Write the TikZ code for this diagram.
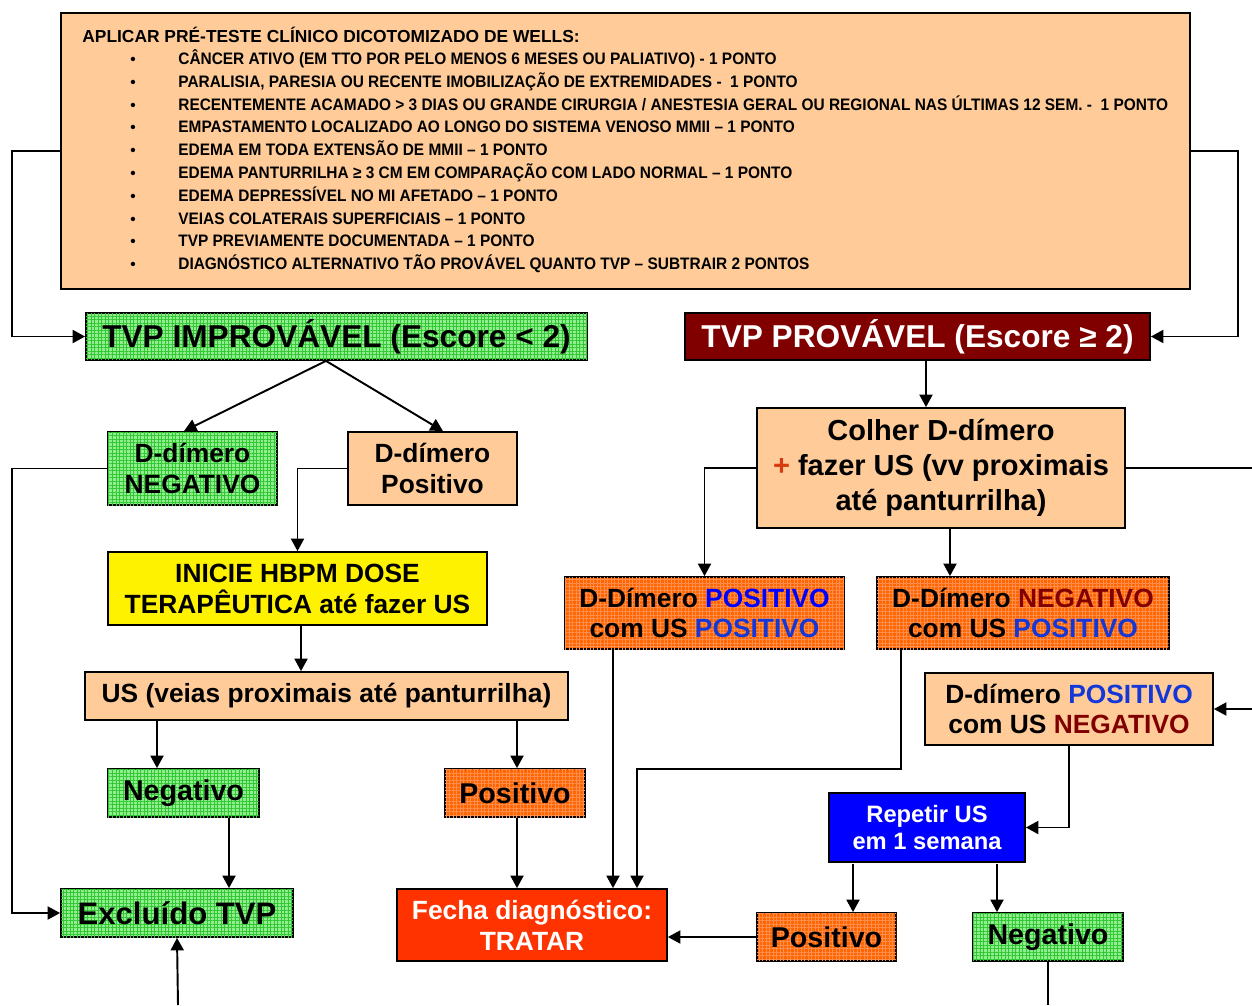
\documentclass[tikz,border=0pt]{standalone}
\usepackage{fontspec}
\setmainfont{Liberation Sans}
\newfontfamily\narrowf[FakeStretch=0.93]{Liberation Sans}
\usetikzlibrary{arrows.meta,patterns.meta}
\definecolor{peach}{HTML}{FFCC99}
\definecolor{gbase}{HTML}{90EE90}
\definecolor{gline}{HTML}{33C833}
\definecolor{obase}{HTML}{FF6600}
\definecolor{oline}{HTML}{FF8E4E}
\definecolor{dred}{HTML}{800000}
\definecolor{fred}{HTML}{FF3300}
\definecolor{tblue}{HTML}{0000FF}
\definecolor{mblue}{HTML}{1438D8}
\definecolor{plus}{HTML}{D83A10}
\newcommand\fsz[2]{\fontsize{#1}{#2}\selectfont}
\begin{document}
\begin{tikzpicture}[x=0.02cm,y=-0.02cm,
  sz/.style 2 args={minimum width=#1*0.02cm,minimum height=#2*0.02cm},
  box/.style={draw=black,line width=1pt,inner sep=0pt,align=center,font=\bfseries},
  peachbox/.style={box,fill=peach},
  greenbox/.style={box,fill=gbase,postaction={pattern={Hatch[angle=0,distance=2pt,line width=0.5pt]},pattern color=gline}},
  orangebox/.style={box,fill=obase,postaction={pattern={Hatch[angle=0,distance=2pt,line width=0.5pt]},pattern color=oline}},
  arr/.style={line width=1.1pt,-{Triangle[length=0.25cm,width=0.26cm]}},
  ln/.style={line width=1.1pt},
  item/.style={inner sep=0pt,anchor=base west,font=\narrowf\bfseries\fsz{9.45}{10}},
  dot/.style={inner sep=0pt,anchor=base,font=\bfseries\fsz{8.7}{10}}
]
\useasboundingbox (0,0) rectangle (1252,1005);
% top box
\node[peachbox,sz={1129}{276}] (top) at (625.5,151) {};
\node[inner sep=0pt,anchor=base west,font=\bfseries\fsz{9.9}{11}] (head) at (82,42) {APLICAR PRÉ-TESTE CLÍNICO DICOTOMIZADO DE WELLS:};
\foreach \t [count=\i] in {
  {CÂNCER ATIVO (EM TTO POR PELO MENOS 6 MESES OU PALIATIVO) - 1 PONTO},
  {PARALISIA, PARESIA OU RECENTE IMOBILIZAÇÃO DE EXTREMIDADES -\ \ 1 PONTO},
  {RECENTEMENTE ACAMADO > 3 DIAS OU GRANDE CIRURGIA / ANESTESIA GERAL OU REGIONAL NAS ÚLTIMAS 12 SEM. -\ \ 1 PONTO},
  {EMPASTAMENTO LOCALIZADO AO LONGO DO SISTEMA VENOSO MMII – 1 PONTO},
  {EDEMA EM TODA EXTENSÃO DE MMII – 1 PONTO},
  {EDEMA PANTURRILHA ≥ 3 CM EM COMPARAÇÃO COM LADO NORMAL – 1 PONTO},
  {EDEMA DEPRESSÍVEL NO MI AFETADO – 1 PONTO},
  {VEIAS COLATERAIS SUPERFICIAIS – 1 PONTO},
  {TVP PREVIAMENTE DOCUMENTADA – 1 PONTO},
  {DIAGNÓSTICO ALTERNATIVO TÃO PROVÁVEL QUANTO TVP – SUBTRAIR 2 PONTOS}} {
  \node[dot] (b\i) at (133,{64.5+(\i-1)*22.8}) {•};
  \node[item] (l\i) at (178,{64.5+(\i-1)*22.8}) {\t};
}
% left branch
\node[greenbox,sz={501}{47},font=\bfseries\fsz{18}{20}] (improv) at (336.5,336.5) {TVP IMPROVÁVEL (Escore < 2)};
\node[box,fill=dred,text=white,sz={465}{47},font=\bfseries\fsz{18}{20}] (prov) at (917.5,336.5) {TVP PROVÁVEL (Escore ≥ 2)};
\node[greenbox,sz={169}{73},font=\bfseries\fsz{15}{17.6}] (dneg) at (192.5,468.5) {D-dímero\\NEGATIVO};
\node[peachbox,sz={169}{73},font=\bfseries\fsz{15}{17.6}] (dpos) at (432.5,468.5) {D-dímero\\Positivo};
\node[box,fill=yellow,sz={379}{73},font=\bfseries\fsz{15}{17.6}] (inicie) at (297.5,588.5) {INICIE HBPM DOSE\\TERAPÊUTICA até fazer US};
\node[peachbox,sz={483}{48},font=\bfseries\fsz{15}{17.6}] (us) at (326.5,696) {US (veias proximais até panturrilha)};
\node[greenbox,sz={151}{48},font=\bfseries\fsz{16.3}{18}] (neg1) at (183.5,793) {Negativo};
\node[orangebox,sz={140}{48},font=\bfseries\fsz{16.3}{18}] (pos1) at (515,793) {Positivo};
\node[greenbox,sz={232}{48},font=\bfseries\fsz{17.7}{20}] (excl) at (177,913) {Excluído TVP};
\node[box,fill=fred,text=white,sz={270}{72},font=\bfseries\fsz{15}{17.6}] (fecha) at (532,925) {Fecha diagnóstico:\\TRATAR};
% right branch
\node[peachbox,sz={368}{120},font=\bfseries\fsz{16.5}{19.8}] (colher) at (941,468) {Colher D-dímero\\\textcolor{plus}{+} fazer US (vv proximais\\até panturrilha)};
\node[orangebox,sz={279}{72},font=\bfseries\fsz{15}{17}] (ddpp) at (704.5,613) {D-Dímero \textcolor{tblue}{POSITIVO}\\com US \textcolor{mblue}{POSITIVO}};
\node[orangebox,sz={292}{72},font=\bfseries\fsz{15}{17}] (ddnp) at (1023,613) {D-Dímero \textcolor{dred}{NEGATIVO}\\com US \textcolor{mblue}{POSITIVO}};
\node[peachbox,sz={288}{72},font=\bfseries\fsz{15}{17}] (ddpn) at (1069,709) {D-dímero \textcolor{mblue}{POSITIVO}\\com US \textcolor{dred}{NEGATIVO}};
\node[box,fill=tblue,text=white,sz={196}{69},font=\bfseries\fsz{13.5}{15.9}] (repetir) at (927,827.5) {Repetir US\\em 1 semana};
\node[orangebox,sz={139}{48},font=\bfseries\fsz{16.3}{18}] (pos2) at (826.5,937) {Positivo};
\node[greenbox,sz={150}{48},font=\bfseries\fsz{16.3}{18}] (neg2) at (1048,937) {Negativo};
% free ends
\coordinate (bot1) at (178,1005);
\coordinate (r1) at (1252,468);
\coordinate (r2) at (1252,709);
\coordinate (r3) at (1048,1005);
\coordinate (rs) at (853,864);
\coordinate (rn) at (997,864);
% connectors
\draw[arr] (top.west) -- ++(-48,0) |- (improv.west);
\draw[arr] (top.east) -- ++(47,0) |- (prov.east);
\draw[arr] (926,0 |- prov.south) -- (926,0 |- colher.north);
\draw[arr] (326,0 |- improv.south) -- (184,0 |- dneg.north);
\draw[arr] (326,0 |- improv.south) -- (443,0 |- dpos.north);
\draw[arr] (dneg.west) -- ++(-95,0) |- (excl.west);
\draw[arr] (dpos.west) -| (inicie.north);
\draw[arr] (301,0 |- inicie.south) -- (301,0 |- us.north);
\draw[arr] (157,0 |- us.south) -- (157,0 |- neg1.north);
\draw[arr] (517,0 |- us.south) -- (517,0 |- pos1.north);
\draw[arr] (229,0 |- neg1.south) -- (229,0 |- excl.north);
\draw[arr] (bot1) -- (excl.south);
\draw[arr] (517,0 |- pos1.south) -- (517,0 |- fecha.north);
\draw[arr] (613,0 |- ddpp.south) -- (613,0 |- fecha.north);
\draw[arr] (901,0 |- ddnp.south) -- (901,769) -- (637,769) -- (637,0 |- fecha.north);
\draw[arr] (colher.west) -| (ddpp.north);
\draw[arr] (950,0 |- colher.south) -- (950,0 |- ddnp.north);
\draw[ln] (colher.east) -- (r1);
\draw[arr] (r2) -- (ddpn.east);
\draw[arr] (ddpn.south) |- (repetir.east);
\draw[arr] (rs) -- (rs |- pos2.north);
\draw[arr] (rn) -- (rn |- neg2.north);
\draw[arr] (pos2.west) -- (pos2.west -| fecha.east);
\draw[ln] (neg2.south) -- (r3);
\end{tikzpicture}
\end{document}
